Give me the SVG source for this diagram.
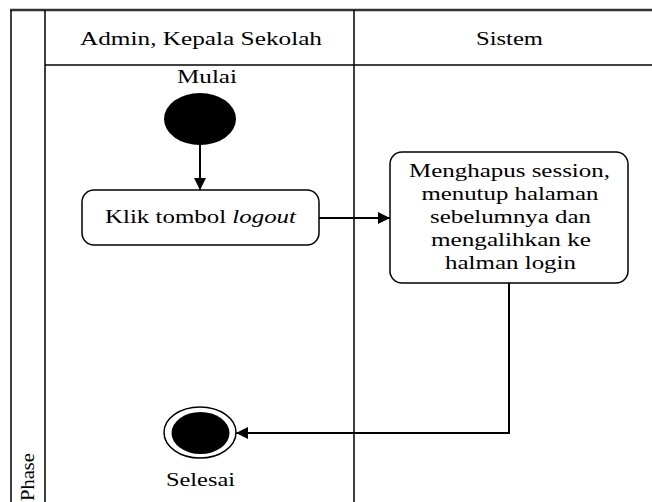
<svg xmlns="http://www.w3.org/2000/svg" width="652" height="502" viewBox="0 0 652 502">
  <style>
    .lane { stroke: #000; stroke-width: 1.5; fill: none; }
    .box { fill: #fff; stroke: #000; stroke-width: 1.5; }
    .flow { stroke: #000; stroke-width: 2; fill: none; }
    text { font-family: "Liberation Serif", "Times New Roman", serif; font-size: 19px; fill: #000; }
  </style>
  <defs>
    <marker id="arrow" viewBox="0 0 12 12" refX="12" refY="6" markerWidth="12" markerHeight="12" markerUnits="userSpaceOnUse" orient="auto">
      <path d="M0,0 L12,6 L0,12 Z" fill="#000"/>
    </marker>
  </defs>

  <rect width="652" height="502" fill="#fff"/>

  <!-- swimlane frame -->
  <g id="swimlanes">
    <line x1="10" y1="10" x2="652" y2="10" stroke="#333" stroke-width="2.5"/>
    <line class="lane" x1="11" y1="10" x2="11" y2="502"/>
    <line class="lane" x1="45" y1="10" x2="45" y2="502"/>
    <line class="lane" x1="354" y1="10" x2="354" y2="502"/>
    <line class="lane" x1="45" y1="65" x2="652" y2="65"/>
    <text x="201" y="45" text-anchor="middle" textLength="242" lengthAdjust="spacingAndGlyphs">Admin, Kepala Sekolah</text>
    <text x="509.5" y="45" text-anchor="middle" textLength="67" lengthAdjust="spacingAndGlyphs">Sistem</text>
    <text transform="translate(33.5,501) rotate(-90)" x="0" y="0" textLength="48" lengthAdjust="spacingAndGlyphs">Phase</text>
  </g>

  <!-- connectors -->
  <g id="connectors">
    <line class="flow" x1="200" y1="144" x2="200" y2="190" marker-end="url(#arrow)"/>
    <line class="flow" x1="319" y1="218" x2="390" y2="218" marker-end="url(#arrow)"/>
    <polyline class="flow" points="509,283 509,433 236,433" marker-end="url(#arrow)"/>
  </g>

  <g id="start">
    <ellipse cx="200" cy="119" rx="36" ry="26" fill="#000"/>
    <text x="207" y="83" text-anchor="middle" textLength="60" lengthAdjust="spacingAndGlyphs">Mulai</text>
  </g>

  <g id="klik-logout">
    <rect class="box" x="82" y="190" width="237" height="55" rx="12" ry="12"/>
    <text x="200.5" y="223" text-anchor="middle" textLength="191" lengthAdjust="spacingAndGlyphs">Klik tombol <tspan font-style="italic">logout</tspan></text>
  </g>

  <g id="hapus-session">
    <rect class="box" x="390" y="152" width="238" height="131" rx="12" ry="12"/>
    <text x="509.5" y="177" text-anchor="middle" textLength="201" lengthAdjust="spacingAndGlyphs">Menghapus session,</text>
    <text x="510" y="200" text-anchor="middle" textLength="177" lengthAdjust="spacingAndGlyphs">menutup halaman</text>
    <text x="510.5" y="223" text-anchor="middle" textLength="161" lengthAdjust="spacingAndGlyphs">sebelumnya dan</text>
    <text x="511" y="246" text-anchor="middle" textLength="160" lengthAdjust="spacingAndGlyphs">mengalihkan ke</text>
    <text x="510.5" y="269" text-anchor="middle" textLength="131" lengthAdjust="spacingAndGlyphs">halman login</text>
  </g>

  <g id="end">
    <ellipse cx="200" cy="432.5" rx="36" ry="25.5" fill="#fff" stroke="#000" stroke-width="1.5"/>
    <ellipse cx="200.5" cy="433" rx="29" ry="21" fill="#000"/>
    <text x="200.5" y="486" text-anchor="middle" textLength="69" lengthAdjust="spacingAndGlyphs">Selesai</text>
  </g>
</svg>
